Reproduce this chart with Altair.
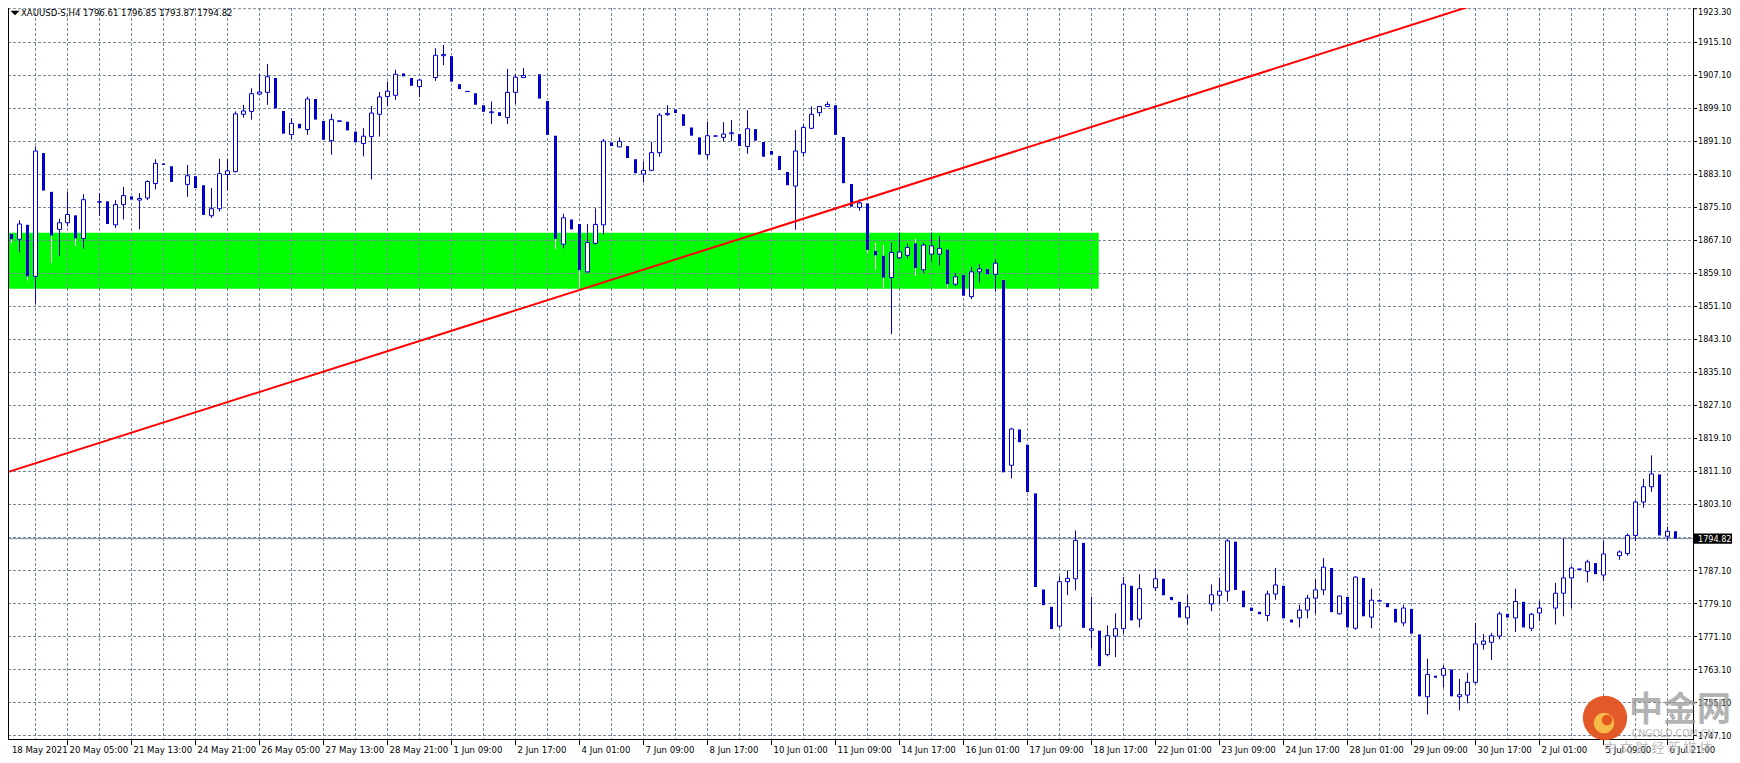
import altair as alt
import pandas as pd

# ---------------- data (XAUUSD-S, H4) ----------------
opens = [1868.3, 1868.7, 1867.4, 1870.9, 1858.4, 1888.3, 1878.9, 1869.8, 1871.4, 1873.2,
         1867.6, 1876.8, 1876.4, 1876.6, 1870.9, 1875.8, 1877.8, 1876.9, 1877.4, 1880.9,
         1885.8, 1885.1, 1881.0, 1880.7, 1882.7, 1880.5, 1873.1, 1874.8, 1883.1, 1883.8,
         1897.7, 1898.4, 1902.6, 1903.0, 1906.5, 1898.5, 1892.8, 1895.4, 1894.0, 1901.4,
         1896.1, 1891.3, 1896.0, 1895.9, 1893.5, 1890.6, 1892.3, 1897.7, 1902.0, 1902.3,
         1907.6, 1906.5, 1904.4, 1906.3, 1906.6, 1911.9, 1911.8, 1905.0, 1903.2, 1902.8,
         1899.9, 1898.1, 1898.2, 1896.9, 1903.0, 1906.6, 1907.2, 1907.4, 1900.9, 1892.5,
         1866.2, 1872.2, 1871.1, 1859.5, 1866.4, 1870.9, 1890.9, 1889.8, 1890.0, 1886.8,
         1883.2, 1884.1, 1888.4, 1897.6, 1898.9, 1897.7, 1894.5, 1892.1, 1887.9, 1892.4,
         1892.1, 1893.0, 1892.9, 1889.9, 1894.1, 1891.0, 1888.8, 1887.6, 1883.7, 1880.3,
         1888.4, 1894.3, 1898.1, 1899.6, 1899.9, 1892.2, 1880.8, 1875.1, 1876.1, 1864.6,
         1863.4, 1858.1, 1862.9, 1863.5, 1866.4, 1860.0, 1863.8, 1863.8, 1864.9, 1856.5,
         1858.8, 1853.5, 1859.5, 1860.2, 1858.9, 1857.5, 1812.6, 1821.3, 1817.6, 1805.8,
         1782.5, 1778.3, 1773.6, 1784.4, 1785.1, 1793.8, 1772.6, 1772.5, 1766.7, 1771.2,
         1773.0, 1783.4, 1775.3, 1782.8, 1782.9, 1785.1, 1780.7, 1779.5, 1775.6, 1778.5,
         1778.8, 1779.0, 1781.1, 1782.1, 1794.1, 1782.2, 1778.1, 1777.1, 1776.2, 1781.4,
         1783.4, 1775.2, 1775.6, 1777.5, 1780.4, 1782.4, 1787.7, 1776.6, 1780.7, 1773.1,
         1785.3, 1775.8, 1779.7, 1779.2, 1777.8, 1774.4, 1777.8, 1771.6, 1756.5, 1761.6,
         1761.7, 1763.1, 1756.5, 1756.9, 1760.0, 1769.2, 1769.7, 1771.2, 1776.6, 1775.6,
         1779.5, 1773.1, 1776.8, 1778.0, 1778.0, 1781.6, 1785.3, 1787.4, 1786.9, 1788.9,
         1786.0, 1790.9, 1790.7, 1791.2, 1795.6, 1803.7, 1807.4, 1810.4, 1795.4, 1796.61]

highs = [1868.6, 1869.0, 1872.0, 1871.1, 1889.9, 1888.6, 1879.1, 1872.4, 1879.0, 1873.4,
         1878.3, 1877.2, 1878.6, 1876.8, 1876.9, 1880.1, 1878.0, 1878.6, 1881.7, 1886.8,
         1886.0, 1885.3, 1881.4, 1885.4, 1882.9, 1880.7, 1879.8, 1886.9, 1886.8, 1898.4,
         1900.0, 1904.0, 1907.4, 1909.9, 1906.8, 1898.7, 1896.8, 1895.6, 1902.0, 1901.6,
         1896.3, 1897.8, 1896.1, 1896.1, 1893.7, 1894.4, 1899.7, 1903.1, 1905.6, 1908.5,
         1907.8, 1906.7, 1906.2, 1906.6, 1913.7, 1914.5, 1912.0, 1905.2, 1903.3, 1903.0,
         1900.1, 1900.8, 1898.4, 1908.7, 1907.4, 1908.9, 1907.5, 1907.6, 1901.1, 1892.7,
         1873.6, 1872.4, 1871.3, 1871.1, 1874.9, 1891.7, 1891.1, 1892.1, 1890.2, 1887.0,
         1886.3, 1891.0, 1898.0, 1899.9, 1899.1, 1897.9, 1894.7, 1892.3, 1895.9, 1892.5,
         1895.8, 1896.3, 1893.1, 1898.7, 1894.3, 1891.2, 1889.0, 1887.8, 1883.9, 1893.9,
         1895.3, 1899.6, 1899.7, 1900.8, 1900.1, 1892.4, 1881.0, 1877.1, 1876.3, 1866.6,
         1866.1, 1866.6, 1869.0, 1866.4, 1867.6, 1866.6, 1869.0, 1868.2, 1865.1, 1859.2,
         1859.0, 1860.7, 1861.3, 1860.4, 1862.6, 1857.7, 1821.7, 1821.5, 1817.8, 1806.0,
         1782.7, 1778.5, 1785.7, 1787.1, 1796.8, 1794.0, 1780.7, 1772.7, 1773.8, 1776.7,
         1785.5, 1783.6, 1786.2, 1783.0, 1787.5, 1785.3, 1780.9, 1779.7, 1781.2, 1778.7,
         1779.0, 1783.7, 1785.4, 1794.7, 1794.3, 1782.4, 1778.3, 1777.3, 1782.2, 1787.7,
         1783.6, 1775.4, 1778.8, 1781.2, 1785.0, 1790.1, 1787.9, 1781.0, 1780.9, 1785.7,
         1785.5, 1782.7, 1779.8, 1779.4, 1778.0, 1778.8, 1778.0, 1771.8, 1765.7, 1761.8,
         1764.1, 1763.3, 1760.8, 1762.3, 1774.4, 1771.7, 1772.0, 1777.1, 1776.8, 1782.7,
         1779.7, 1776.8, 1779.8, 1778.2, 1784.1, 1794.8, 1788.1, 1787.5, 1789.7, 1789.1,
         1794.3, 1791.1, 1792.0, 1796.1, 1804.1, 1809.3, 1815.0, 1810.6, 1797.7, 1796.85]

lows = [1867.0, 1866.3, 1864.2, 1857.4, 1851.8, 1878.8, 1861.6, 1863.4, 1870.5, 1865.8,
        1865.1, 1876.4, 1873.1, 1870.9, 1870.1, 1872.2, 1876.8, 1869.8, 1876.9, 1879.5,
        1885.2, 1881.1, 1880.6, 1877.7, 1879.6, 1873.1, 1872.6, 1874.1, 1879.3, 1883.6,
        1896.9, 1896.4, 1902.4, 1900.0, 1898.9, 1892.9, 1891.7, 1894.1, 1892.7, 1896.2,
        1891.3, 1887.9, 1895.9, 1893.6, 1890.7, 1887.5, 1881.9, 1892.3, 1899.6, 1901.2,
        1906.7, 1904.4, 1901.9, 1906.0, 1905.8, 1909.6, 1905.4, 1903.6, 1903.1, 1899.8,
        1898.1, 1895.3, 1897.1, 1895.3, 1900.2, 1906.5, 1907.0, 1901.3, 1892.5, 1865.0,
        1865.2, 1869.6, 1855.6, 1859.2, 1866.1, 1868.5, 1889.8, 1889.7, 1886.9, 1883.2,
        1881.2, 1883.9, 1887.4, 1897.3, 1897.8, 1894.7, 1892.3, 1887.7, 1886.7, 1892.3,
        1891.1, 1891.2, 1889.8, 1888.1, 1891.1, 1887.2, 1887.7, 1884.0, 1880.3, 1869.7,
        1887.4, 1894.1, 1897.2, 1899.4, 1892.5, 1880.8, 1875.1, 1874.3, 1864.0, 1859.9,
        1855.5, 1844.4, 1862.7, 1862.8, 1858.5, 1859.2, 1862.0, 1861.0, 1855.5, 1856.1,
        1853.5, 1852.9, 1856.9, 1858.7, 1854.7, 1810.7, 1809.4, 1818.0, 1805.9, 1782.9,
        1778.5, 1772.7, 1773.2, 1781.1, 1782.3, 1773.0, 1768.2, 1763.7, 1766.3, 1766.1,
        1771.8, 1774.8, 1773.3, 1782.6, 1782.1, 1780.9, 1779.7, 1775.5, 1774.0, 1778.3,
        1778.6, 1777.2, 1779.0, 1779.6, 1782.2, 1778.0, 1777.1, 1776.3, 1774.8, 1780.0,
        1775.3, 1774.3, 1773.3, 1775.5, 1776.6, 1781.1, 1776.8, 1776.4, 1773.1, 1772.7,
        1775.8, 1773.1, 1779.6, 1778.0, 1774.3, 1773.6, 1771.6, 1756.4, 1752.2, 1760.9,
        1758.7, 1756.4, 1753.2, 1754.9, 1759.5, 1767.9, 1765.4, 1770.4, 1775.5, 1772.2,
        1773.1, 1772.4, 1774.8, 1777.8, 1774.0, 1776.0, 1778.0, 1787.3, 1784.2, 1786.0,
        1784.5, 1790.7, 1789.7, 1790.7, 1794.2, 1802.3, 1806.2, 1795.4, 1794.2, 1793.87]

closes = [1868.5, 1867.4, 1871.1, 1858.4, 1888.8, 1879.2, 1868.3, 1871.4, 1873.4, 1867.6,
          1877.0, 1876.8, 1876.5, 1871.1, 1875.8, 1878.0, 1877.0, 1877.3, 1881.4, 1885.8,
          1885.4, 1881.3, 1881.0, 1882.8, 1879.8, 1873.3, 1874.8, 1883.3, 1884.0, 1897.8,
          1898.5, 1902.7, 1903.1, 1906.8, 1899.1, 1893.0, 1895.5, 1894.3, 1901.4, 1896.4,
          1891.5, 1896.4, 1896.1, 1893.8, 1890.9, 1892.4, 1898.0, 1901.9, 1903.3, 1907.4,
          1906.9, 1904.6, 1906.0, 1906.3, 1912.0, 1912.2, 1905.6, 1903.8, 1903.25, 1900.0,
          1898.3, 1898.3, 1897.3, 1903.0, 1906.7, 1907.1, 1907.2, 1901.5, 1892.7, 1867.5,
          1872.6, 1869.8, 1859.9, 1866.6, 1871.0, 1891.2, 1890.0, 1891.1, 1887.1, 1883.4,
          1884.1, 1888.4, 1897.5, 1897.9, 1898.0, 1894.9, 1892.5, 1887.9, 1892.5, 1892.45,
          1892.9, 1893.2, 1890.0, 1894.2, 1891.3, 1887.4, 1887.9, 1884.2, 1880.5, 1888.8,
          1894.5, 1897.7, 1899.6, 1900.1, 1892.7, 1881.0, 1875.3, 1876.2, 1864.8, 1863.5,
          1858.1, 1864.2, 1864.3, 1865.4, 1860.4, 1866.0, 1865.8, 1865.2, 1856.5, 1858.3,
          1853.7, 1859.5, 1860.2, 1858.9, 1861.6, 1810.9, 1821.4, 1818.2, 1806.1, 1783.1,
          1778.7, 1772.9, 1784.4, 1785.2, 1794.4, 1773.2, 1773.0, 1763.9, 1771.3, 1773.0,
          1783.8, 1775.0, 1782.7, 1782.8, 1785.1, 1781.1, 1779.9, 1775.7, 1778.3, 1778.5,
          1778.8, 1781.2, 1782.1, 1794.3, 1782.4, 1778.2, 1777.3, 1776.5, 1781.4, 1783.6,
          1775.5, 1774.5, 1777.5, 1780.4, 1782.4, 1787.9, 1777.0, 1780.9, 1773.3, 1785.5,
          1776.0, 1779.9, 1779.75, 1778.2, 1774.5, 1778.0, 1771.8, 1756.6, 1761.9, 1761.1,
          1763.3, 1756.6, 1757.0, 1760.0, 1769.3, 1770.0, 1771.3, 1776.6, 1775.7, 1779.6,
          1773.3, 1776.5, 1778.0, 1778.0, 1781.6, 1785.3, 1787.7, 1787.45, 1789.2, 1786.2,
          1791.1, 1790.9, 1791.6, 1795.6, 1803.7, 1807.4, 1810.5, 1795.6, 1796.6, 1794.82]

date_labels = ["18 May 2021", "20 May 05:00", "21 May 13:00", "24 May 21:00", "26 May 05:00",
               "27 May 13:00", "28 May 21:00", "1 Jun 09:00", "2 Jun 17:00", "4 Jun 01:00",
               "7 Jun 09:00", "8 Jun 17:00", "10 Jun 01:00", "11 Jun 09:00", "14 Jun 17:00",
               "16 Jun 01:00", "17 Jun 09:00", "18 Jun 17:00", "22 Jun 01:00", "23 Jun 09:00",
               "24 Jun 17:00", "28 Jun 01:00", "29 Jun 09:00", "30 Jun 17:00", "2 Jul 01:00",
               "5 Jul 09:00", "6 Jul 21:00"]
label_bars = [0, 8, 16, 24, 32, 40, 48, 56, 64, 72, 80, 88, 96, 104, 112, 120, 128, 136,
              144, 152, 160, 168, 176, 184, 192, 200, 208]
grid_bars = [0, 4, 8, 12, 16, 20, 24, 28, 32, 36, 40, 44, 48, 52, 56, 60, 64, 68, 72, 76,
             80, 84, 88, 92, 96, 100, 104, 108, 112, 116, 120, 124, 128, 132, 136, 140, 144,
             148, 152, 156, 160, 164, 168, 172, 176, 180, 184, 188, 192, 196, 200, 204, 208]
price_levels = [1923.30, 1915.10, 1907.10, 1899.10, 1891.10, 1883.10, 1875.10, 1867.10,
                1859.10, 1851.10, 1843.10, 1835.10, 1827.10, 1819.10, 1811.10, 1803.10,
                1795.10, 1787.10, 1779.10, 1771.10, 1763.10, 1755.10, 1747.10]
price_labels = [p for p in price_levels if abs(p - 1795.10) > 0.01]
last_price = 1794.82
title_text = "XAUUSD-S,H4  1796.61 1796.85 1793.87 1794.82"

zone_top, zone_bottom, zone_end_bar = 1869.0, 1855.4, 136.9
trend_bars = [-0.44, 185.8]
trend_prices = [1810.35, 1925.4]

# ---------------- layout ----------------
W, H = 1686, 732
X_DOMAIN = [0.5625, 211.3125]
Y_DOMAIN = [1746.0091, 1923.4636]
LABEL_TOP = 1922.5          # keeps the topmost price label inside the picture
BLUE = "#0000CD"
GRID = "#778899"
FONT = "DejaVu Sans Condensed, Liberation Sans, sans-serif"
CJK = "Noto Sans CJK SC"

xs = alt.Scale(domain=X_DOMAIN, nice=False, zero=False)
ys = alt.Scale(domain=Y_DOMAIN, nice=False, zero=False)


def X(f):
    return alt.X(f, type="quantitative", scale=xs, axis=None)


def Y(f):
    return alt.Y(f, type="quantitative", scale=ys, axis=None)


candles = pd.DataFrame({"bar": list(range(len(opens))), "open": opens, "high": highs,
                        "low": lows, "close": closes})
one = pd.DataFrame({"k": [0]})
BULL = "datum.close > datum.open"
BEAR = "datum.close <= datum.open"

zone = alt.Chart(pd.DataFrame({"x1": [X_DOMAIN[0] - 1], "x2": [zone_end_bar],
                               "y1": [zone_top], "y2": [zone_bottom]})).mark_rect(
    color="#00FF00", clip=True).encode(x=X("x1"), x2="x2", y=Y("y1"), y2="y2")

vgrid = alt.Chart(pd.DataFrame({"bar": grid_bars})).mark_rule(
    color=GRID, strokeWidth=1, strokeDash=[3, 2], clip=True).encode(
    x=X("bar"), y=alt.value(0), y2=alt.value(H))

hgrid = alt.Chart(pd.DataFrame({"price": price_levels})).mark_rule(
    color=GRID, strokeWidth=1, strokeDash=[3, 2]).encode(
    y=Y("price"), x=alt.value(0), x2=alt.value(W))

pline = alt.Chart(pd.DataFrame({"price": [last_price]})).mark_rule(
    color=GRID, strokeWidth=1).encode(y=Y("price"), x=alt.value(0), x2=alt.value(W))

bull_w = alt.Chart(candles).transform_filter(BULL).mark_rule(
    color=BLUE, strokeWidth=1).encode(x=X("bar"), y=Y("low"), y2="high")
bear_w = alt.Chart(candles).transform_filter(BEAR).mark_rule(
    color="#FFFFFF", strokeWidth=1).encode(x=X("bar"), y=Y("low"), y2="high")

bull_b = alt.Chart(candles).transform_filter(BULL).transform_calculate(
    x1="datum.bar - 0.25", x2="datum.bar + 0.25").mark_rect(
    fill="#FFFFFF", stroke=BLUE, strokeWidth=1).encode(
    x=X("x1"), x2="x2", y=Y("open"), y2="close")
bear_b = alt.Chart(candles).transform_filter(BEAR).transform_calculate(
    x1="datum.bar - 0.1875", x2="datum.bar + 0.1875").mark_rect(
    color=BLUE).encode(x=X("x1"), x2="x2", y=Y("open"), y2="close")

trend = alt.Chart(pd.DataFrame({"bar": trend_bars, "price": trend_prices})).mark_line(
    color="#FF0000", strokeWidth=2, clip=True).encode(x=X("bar"), y=Y("price"))

left_border = alt.Chart(one).mark_rule(color="black", strokeWidth=1).encode(
    x=alt.value(0.5), y=alt.value(0), y2=alt.value(H))
bottom_border = alt.Chart(one).mark_rule(color="black", strokeWidth=1).encode(
    y=alt.value(H - 0.5), x=alt.value(0), x2=alt.value(W))
right_border = alt.Chart(one).mark_rule(color="black", strokeWidth=1).encode(
    x=alt.value(W - 0.5), y=alt.value(0), y2=alt.value(H))

plab = pd.DataFrame({"price": price_labels, "label": [f"{p:.2f}" for p in price_labels]})
yticks = alt.Chart(plab).mark_rule(color="black", strokeWidth=1).encode(
    y=Y("price"), x=alt.value(W), x2=alt.value(W + 3))
ylabels = alt.Chart(plab).transform_calculate(
    ly=f"min(datum.price, {LABEL_TOP})").mark_text(
    align="left", baseline="middle", font=FONT, fontSize=9, color="black").encode(
    y=Y("ly"), x=alt.value(W + 4), text="label:N")

pbox = alt.Chart(pd.DataFrame({"top": [last_price + 1.25], "bot": [last_price - 1.25]})).mark_rect(
    color="black").encode(y=Y("top"), y2="bot", x=alt.value(W), x2=alt.value(W + 38))
ptext = alt.Chart(pd.DataFrame({"price": [last_price], "label": [f"{last_price:.2f}"]})).mark_text(
    align="left", baseline="middle", font=FONT, fontSize=9, color="white").encode(
    y=Y("price"), x=alt.value(W + 4), text="label:N")

xlab_df = pd.DataFrame({"bar": label_bars, "label": date_labels})
xticks = alt.Chart(xlab_df).mark_rule(color="black", strokeWidth=1).encode(
    x=X("bar"), y=alt.value(H), y2=alt.value(H + 5))
xlabels = alt.Chart(xlab_df).transform_calculate(lx="max(datum.bar, 0.8)").mark_text(
    align="left", baseline="alphabetic", font=FONT, fontSize=9.5, color="black", dx=2).encode(
    x=X("lx"), y=alt.value(H + 13), text="label:N")

title_tri = alt.Chart(one).mark_point(shape="M-1,-0.5L1,-0.5L0,0.5Z", size=81, filled=True,
                                      color="black", opacity=1, strokeWidth=0).encode(
    x=alt.value(7), y=alt.value(5))
title = alt.Chart(pd.DataFrame({"t": [title_text]})).mark_text(
    align="left", baseline="middle", font=FONT, fontSize=9.5, color="black").encode(
    x=alt.value(13), y=alt.value(5), text="t:N")

# watermark (中金网 logo)
logo_outer = alt.Chart(one).mark_circle(size=1963, color="#E2511C", opacity=0.95).encode(
    x=alt.value(1597), y=alt.value(710))
logo_inner = alt.Chart(one).mark_circle(size=420, color="#F6C04A", opacity=0.95).encode(
    x=alt.value(1596), y=alt.value(715))
logo_core = alt.Chart(one).mark_circle(size=110, color="#E2511C", opacity=0.95).encode(
    x=alt.value(1599), y=alt.value(712))
wm1 = alt.Chart(pd.DataFrame({"t": ["中金网"]})).mark_text(
    font=CJK, fontSize=34, fontWeight="bold", color="#9A9A9A", opacity=0.75,
    align="center", baseline="middle").encode(x=alt.value(1672), y=alt.value(703), text="t:N")
wm2 = alt.Chart(pd.DataFrame({"t": ["CNGOLD.COM.CN"]})).mark_text(
    font=FONT, fontSize=10.5, color="#A8A8A8", opacity=0.8,
    align="center", baseline="middle").encode(x=alt.value(1665), y=alt.value(726), text="t:N")
wm3 = alt.Chart(pd.DataFrame({"t": ["中 文 财 经 新 媒 体"]})).mark_text(
    font=CJK, fontSize=13, color="#B0B0B0", opacity=0.8,
    align="center", baseline="middle").encode(x=alt.value(1650), y=alt.value(740), text="t:N")

chart = alt.layer(
    zone, vgrid, hgrid, pline, bull_w, bear_w, bull_b, bear_b, trend,
    left_border, bottom_border, right_border, yticks, ylabels, pbox, ptext,
    xticks, xlabels, title_tri, title, logo_outer, logo_inner, logo_core, wm1, wm2, wm3
).properties(
    width=W, height=H,
    padding={"left": 0, "top": 0, "right": 38, "bottom": 15},
    autosize=alt.AutoSizeParams(type="none"),
    background="white",
).configure_view(stroke=None)

chart.save("out.html", embed_options={"renderer": "svg", "actions": False})
